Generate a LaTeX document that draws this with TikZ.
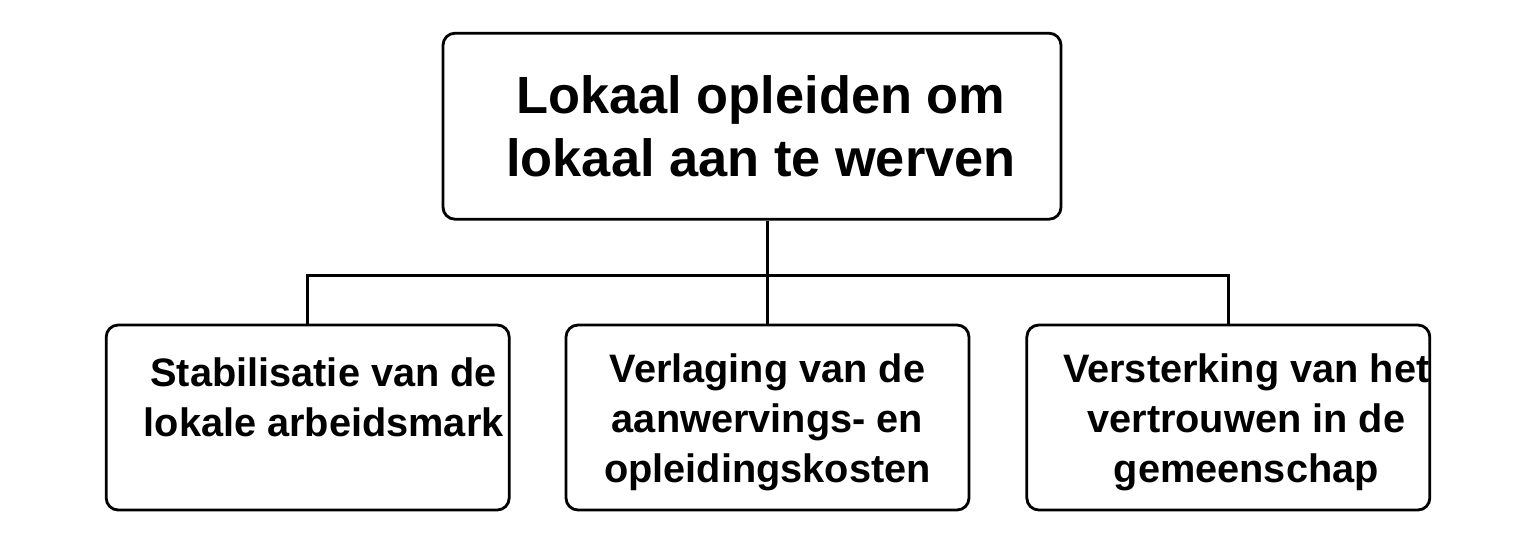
\documentclass[tikz,border=0pt]{standalone}
\usepackage{fontspec}
\setmainfont{Liberation Sans}
\usepackage{tikz}
\usetikzlibrary{positioning}

\begin{document}
\begin{tikzpicture}
[
box-a/.style={draw, line width=1.6pt, rounded corners=2.4mm, minimum width=12.36cm, minimum height=3.72cm},
box-b/.style={draw, line width=1.6pt, rounded corners=2.4mm, minimum width=8.06cm, minimum height=3.7cm},
text-a/.style={align=center, font=\fontsize{29.8}{36}\selectfont\bfseries},
text-b/.style={align=center, font=\fontsize{22.6}{28.3}\selectfont\bfseries},
link/.style={line width=1.6pt}
]

\useasboundingbox (0,0) rectangle (30.72,-10.64);

\node (box-mid)   [box-b] at (15.35,-8.35)                        {};
\node (box-left)  [box-b, left       = 1.08cm of box-mid]        {};
\node (box-right) [box-b, right      = 1.10cm of box-mid]        {};
\node (box-top)   [box-a, above      = 2.06cm of box-mid, xshift=-0.31cm] {};

\node (txt-top)   [text-a] at ([xshift=0.18cm]box-top.center)   {Lokaal opleiden om\\lokaal aan te werven};
\node (txt-left)  [text-b] at ([xshift=0.32cm, yshift=0.40cm]box-left.center)  {Stabilisatie van de\\lokale arbeidsmark};
\node (txt-mid)   [text-b] at ([yshift=-0.10cm]box-mid.center)   {Verlaging van de\\aanwervings- en\\opleidingskosten};
\node (txt-right) [text-b] at ([xshift=0.36cm, yshift=-0.10cm]box-right.center) {Versterking van het\\vertrouwen in de\\gemeenschap};

\coordinate (fork) at ([yshift=0.96cm]box-mid.north);
\draw [link] (box-top.south -| box-mid.north) -- (box-mid.north);
\draw [link] (box-left.north) |- (fork) -| (box-right.north);

\end{tikzpicture}
\end{document}
